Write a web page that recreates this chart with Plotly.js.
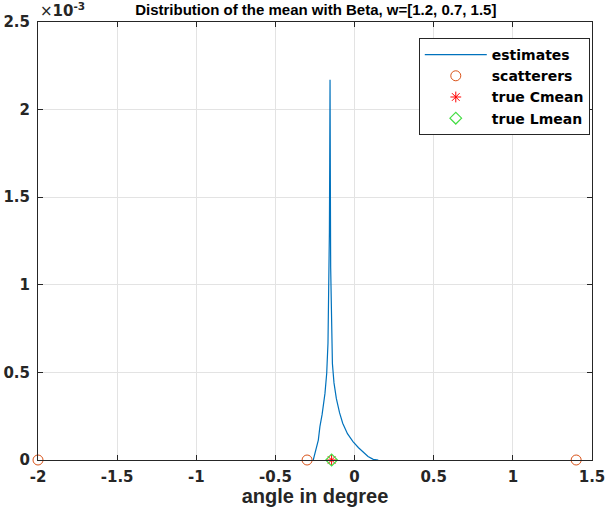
<!DOCTYPE html>
<html>
<head>
<meta charset="utf-8">
<script src="https://cdn.plot.ly/plotly-3.0.1.min.js"></script>
<style>
  html, body { margin: 0; padding: 0; background: #fff; }
  #plot { width: 605px; height: 507px; }
</style>
</head>
<body>
<div id="plot"></div>
<script>
// estimated density of the mean
const estX = [-0.261, -0.245, -0.229, -0.219, -0.205, -0.187, -0.176, -0.168, -0.162, -0.159, -0.157, -0.155,
              -0.153, -0.151, -0.147, -0.140, -0.130, -0.115, -0.095, -0.075, -0.045, -0.010, 0.025, 0.055, 0.085, 0.118, 0.150];
const estY = [0, 0.05e-3, 0.114e-3, 0.19e-3, 0.26e-3, 0.38e-3, 0.495e-3, 0.666e-3, 0.95e-3, 1.3e-3, 1.7e-3, 2.17e-3,
              1.6e-3, 1.1e-3, 0.75e-3, 0.55e-3, 0.44e-3, 0.35e-3, 0.27e-3, 0.21e-3, 0.15e-3, 0.105e-3, 0.07e-3, 0.045e-3, 0.02e-3, 0.004e-3, 0];

const scattX = [-2, -0.3, 1.4];
const scattY = [0, 0, 0];
const cmeanX = [-0.145];
const cmeanY = [0];
const lmeanX = [-0.145];
const lmeanY = [0];

const xTicks = [-2, -1.5, -1, -0.5, 0, 0.5, 1, 1.5];
const yTicks = [0, 0.5e-3, 1e-3, 1.5e-3, 2e-3, 2.5e-3];
const yTickText = ['0', '0.5', '1', '1.5', '2', '2.5'];

const traces = [
  { x: estX, y: estY, type: 'scatter', mode: 'lines', name: 'estimates',
    line: { color: '#0072BD', width: 1.2 } },
  { x: scattX, y: scattY, type: 'scatter', mode: 'markers', name: 'scatterers', cliponaxis: false,
    marker: { symbol: 'circle-open', size: 10, color: '#D95319', line: { width: 1 } } },
  { x: cmeanX, y: cmeanY, type: 'scatter', mode: 'markers', name: 'true Cmean', cliponaxis: false,
    marker: { symbol: 'asterisk-open', size: 9, color: '#FF0000', line: { width: 1, color: '#FF0000' } } },
  { x: lmeanX, y: lmeanY, type: 'scatter', mode: 'markers', name: 'true Lmean', cliponaxis: false,
    marker: { symbol: 'diamond-open', size: 9, color: '#44DD44', line: { width: 1.2 } } }
];

const tickFont = { family: 'DejaVu Sans, sans-serif', size: 15, color: '#262626', weight: 'bold' };

const layout = {
  width: 605, height: 507,
  margin: { l: 38, r: 13, t: 22, b: 47 },
  paper_bgcolor: '#fff', plot_bgcolor: '#fff',
  showlegend: true,
  title: {
    text: 'Distribution of the mean with Beta, w=[1.2, 0.7, 1.5]',
    x: 0.522, xanchor: 'center', y: 0.98, yanchor: 'middle',
    font: { family: 'Liberation Sans, Arial, sans-serif', size: 15, color: '#000', weight: 'bold' }
  },
  xaxis: {
    range: [-2, 1.5], tickvals: xTicks, ticktext: xTicks.map(String),
    showgrid: true, gridcolor: '#e3e3e3', zeroline: false,
    showline: true, linecolor: '#262626', linewidth: 1, mirror: 'ticks',
    ticks: 'inside', ticklen: 5, tickcolor: '#262626',
    tickfont: tickFont, ticklabelstandoff: 3, ticklabeloverflow: 'allow',
    title: { text: 'angle in degree', standoff: 1,
      font: { family: 'Liberation Sans, Arial, sans-serif', size: 20, color: '#262626', weight: 'bold' } }
  },
  yaxis: {
    range: [0, 2.5e-3], tickvals: yTicks, ticktext: yTickText,
    showgrid: true, gridcolor: '#e3e3e3', zeroline: false,
    showline: true, linecolor: '#262626', linewidth: 1, mirror: 'ticks',
    ticks: 'inside', ticklen: 5, tickcolor: '#262626',
    tickfont: tickFont, ticklabelstandoff: 4, ticklabeloverflow: 'allow'
  },
  legend: {
    x: 0.996, xanchor: 'right', y: 0.9635, yanchor: 'top',
    bgcolor: '#fff', bordercolor: '#262626', borderwidth: 1,
    font: { family: 'DejaVu Sans, sans-serif', size: 14, color: '#000', weight: 'bold' },
    tracegroupgap: 0, itemwidth: 62
  },
  annotations: [{
    xref: 'paper', yref: 'paper', x: 0, y: 1, xanchor: 'left', yanchor: 'bottom', yshift: 0,
    showarrow: false, text: '×<b>10</b><sup><b>-3</b></sup>',
    font: { family: 'DejaVu Sans, sans-serif', size: 15, color: '#262626' }
  }]
};

Plotly.newPlot('plot', traces, layout, { displayModeBar: false, staticPlot: true });
</script>
</body>
</html>
